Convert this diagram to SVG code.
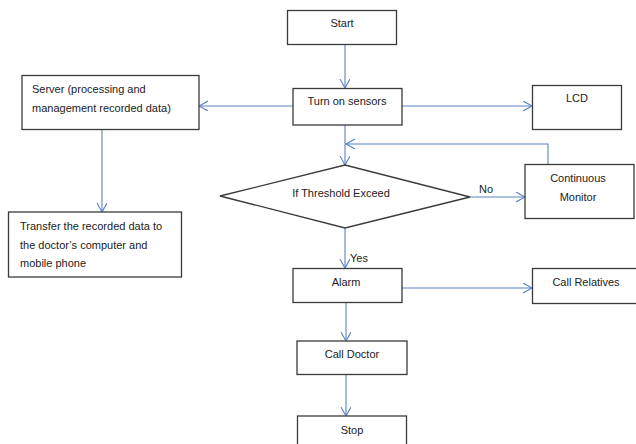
<svg xmlns="http://www.w3.org/2000/svg" width="636" height="444" viewBox="0 0 636 444">
<style>
.box{fill:#fff;stroke:#3a3a3a;stroke-width:1.3}
.t{font-family:"Liberation Sans",Arial,sans-serif;font-size:11px;fill:#222}
.c{text-anchor:middle}
.ln{fill:none;stroke:#5b84bf;stroke-width:1.1;marker-end:url(#ah)}
</style>
<defs>
<marker id="ah" markerUnits="userSpaceOnUse" markerWidth="12" markerHeight="12" refX="9" refY="5" orient="auto">
<path d="M0,0 L9,5 L0,10" fill="none" stroke="#5b84bf" stroke-width="1.1"/>
</marker>
</defs>
<rect width="636" height="444" fill="#fff"/>
<g id="connectors">
<path class="ln" d="M345,44 V88"/>
<path class="ln" d="M402,106 H532"/>
<path class="ln" d="M293,106 H199"/>
<path class="ln" d="M102,129 V212"/>
<path class="ln" d="M345,125 V165"/>
<path class="ln" d="M548,164 V144 H346"/>
<path class="ln" d="M470,197 H525"/>
<path class="ln" d="M345,228 V268"/>
<path class="ln" d="M402,288 H532"/>
<path class="ln" d="M346,302 V341"/>
<path class="ln" d="M346,374 V416"/>
<text class="t" x="479" y="193">No</text>
<text class="t" x="350" y="262">Yes</text>
</g>
<g id="start">
<rect class="box" x="287.5" y="10.5" width="109" height="34"/>
<text class="t c" x="342" y="27">Start</text>
</g>
<g id="turn-on-sensors">
<rect class="box" x="293" y="88.5" width="109" height="36.5"/>
<text class="t c" x="347" y="105">Turn on sensors</text>
</g>
<g id="lcd">
<rect class="box" x="532.5" y="85.5" width="89" height="44"/>
<text class="t c" x="577" y="102">LCD</text>
</g>
<g id="server">
<rect class="box" x="22" y="75.5" width="177" height="54"/>
<text class="t" x="32" y="93">Server (processing and</text>
<text class="t" x="32" y="112">management recorded data)</text>
</g>
<g id="transfer">
<rect class="box" x="8.5" y="212" width="173" height="65"/>
<text class="t" x="20" y="230">Transfer the recorded data to</text>
<text class="t" x="20" y="249">the doctor’s computer and</text>
<text class="t" x="20" y="267">mobile phone</text>
</g>
<g id="threshold">
<polygon class="box" points="220,196 345,165 470,197 345,228"/>
<text class="t c" x="341" y="197">If Threshold Exceed</text>
</g>
<g id="continuous-monitor">
<rect class="box" x="525" y="164.5" width="109" height="54"/>
<text class="t c" x="578" y="182">Continuous</text>
<text class="t c" x="578" y="201">Monitor</text>
</g>
<g id="alarm">
<rect class="box" x="293" y="268.5" width="109" height="34"/>
<text class="t c" x="346" y="286">Alarm</text>
</g>
<g id="call-relatives">
<rect class="box" x="532.5" y="268.5" width="110" height="35"/>
<text class="t c" x="586" y="286">Call Relatives</text>
</g>
<g id="call-doctor">
<rect class="box" x="297" y="341" width="110" height="33.5"/>
<text class="t c" x="352" y="358">Call Doctor</text>
</g>
<g id="stop">
<rect class="box" x="297.5" y="416" width="109" height="40"/>
<text class="t c" x="352" y="434">Stop</text>
</g>
</svg>
